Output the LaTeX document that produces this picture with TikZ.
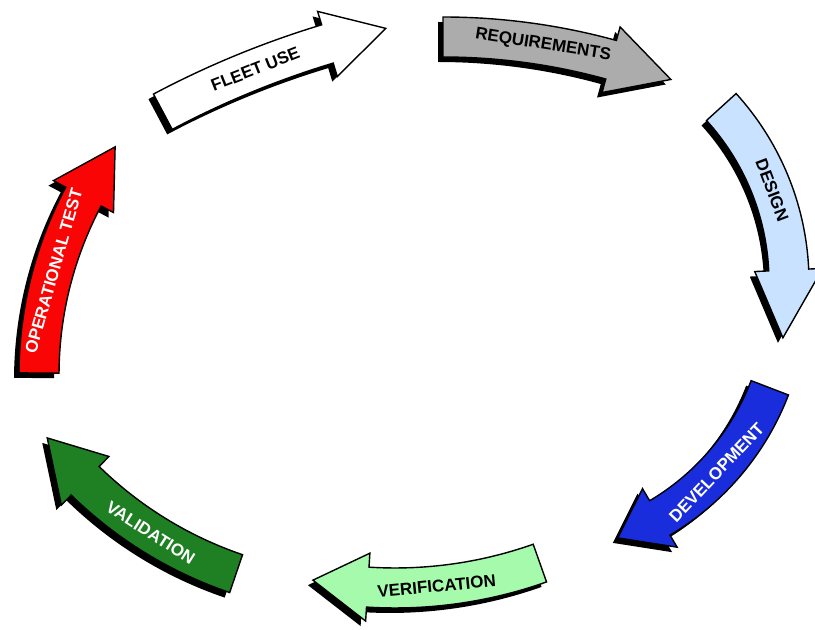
\documentclass[tikz,border=0pt]{standalone}
\usepackage{fontspec}
\setsansfont{Liberation Sans}

\definecolor{reqgray}{RGB}{172,172,172}
\definecolor{designblue}{RGB}{200,226,255}
\definecolor{devblue}{RGB}{25,45,220}
\definecolor{verifgreen}{RGB}{165,250,172}
\definecolor{validgreen}{RGB}{30,128,35}
\definecolor{opred}{RGB}{250,5,5}

% outline of one curved arrow: radius, tail, head base, tip (angles)
\newcommand{\bandpath}[4]{({#2}:{#1+20}) arc[start angle=#2, end angle=#3, radius=#1+20] -- ({#3}:{#1+34}) -- ({#4}:{#1}) -- ({#3}:{#1-34}) -- ({#3}:{#1-20}) arc[start angle=#3, end angle=#2, radius=#1-20] -- cycle}

% centre, radius, tail, head base, tip, fill
\newcommand{\cyclearrow}[6]{%
  \begin{scope}[shift={#1}]
    \fill[black, shift={(-5,-5)}] \bandpath{#2}{#3}{#4}{#5};
    \draw[outline, fill=#6] \bandpath{#2}{#3}{#4}{#5};
  \end{scope}}

\begin{document}
\begin{tikzpicture}[x=1pt, y=1pt,
    outline/.style={draw=black, line width=1.4pt, line join=miter},
    lbl/.style={font=\sffamily\bfseries\fontsize{17}{20}\selectfont, inner sep=0pt}]
  \useasboundingbox (0,0) rectangle (815,630);
  % arrows, clockwise from the top
  \cyclearrow{(591,-287)}{912}{118}{106.8}{103}{white}
  \cyclearrow{(443,-40)}{633}{90}{74.6}{68.9}{reqgray}
  \cyclearrow{(529,348)}{260}{42.3}{2.65}{-12.4}{designblue}
  \cyclearrow{(528,335)}{259}{-21}{-59.4}{-69.7}{devblue}
  \cyclearrow{(395,476)}{434}{-70.5}{-93.6}{-100.9}{verifgreen}
  \cyclearrow{(365,435)}{400}{-108.8}{-134.4}{-142.6}{validgreen}
  \cyclearrow{(419,255)}{380}{179.7}{152}{143.1}{opred}
  % labels along the arrows
  \node[lbl, rotate=21.6] (fleet) at (255.3,561) {FLEET USE};
  \node[lbl, rotate=-9.1] (req) at (543.1,585) {REQUIREMENTS};
  \node[lbl, rotate=-69.3] (design) at (772.2,439.9) {DESIGN};
  \node[lbl, rotate=46.7, text=white] (dev) at (716.5,157.4) {DEVELOPMENT};
  \node[lbl, rotate=5.5] (verif) at (436.6,44) {VERIFICATION};
  \node[lbl, rotate=-32.4, text=white] (valid) at (150.7,97.3) {VALIDATION};
  \node[lbl, rotate=74.1, text=white] (optest) at (53.6,359.1) {OPERATIONAL TEST};
\end{tikzpicture}
\end{document}
